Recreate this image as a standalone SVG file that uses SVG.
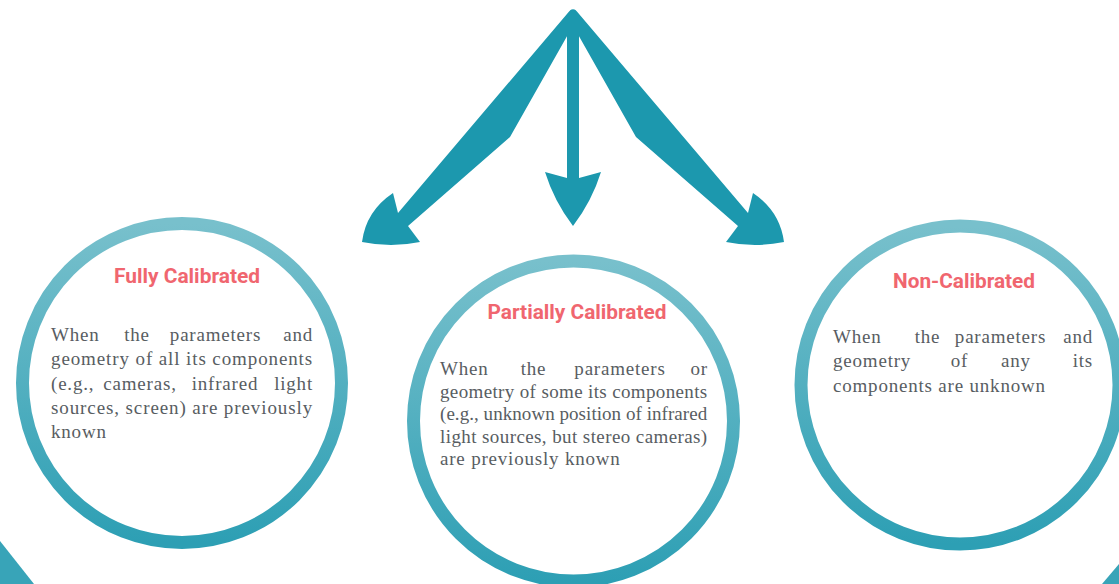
<svg xmlns="http://www.w3.org/2000/svg" width="1119" height="584" viewBox="0 0 1119 584">
  <defs>
    <linearGradient id="ring" x1="0" y1="0" x2="0" y2="1">
      <stop offset="0" stop-color="#78c0cc"/>
      <stop offset="1" stop-color="#2d9fb4"/>
    </linearGradient>
    <style>
      .ring { fill: #ffffff; stroke: url(#ring); stroke-width: 13; }
      .arrow { fill: #1c98ae; }
      .corner { fill: #38a4b8; }
      .title { font-family: Roboto, "Liberation Sans", sans-serif; font-weight: 700; font-size: 20px; fill: #f0666f; text-anchor: middle; }
      .body { font-family: "Liberation Serif", serif; font-size: 19px; fill: #585d62; letter-spacing: 0.8px; }
      .mid { text-anchor: middle; }
      .end { text-anchor: end; }
    </style>
  </defs>

  <rect width="1119" height="584" fill="#ffffff"/>

  <!-- partial shapes at the lower corners -->
  <path class="corner" d="M0 541 L34 584 L0 584 Z"/>
  <path class="corner" d="M1102 584 L1119 564 L1119 584 Z"/>

  <!-- branching arrows -->
  <g id="connectors">
    <path class="arrow" d="M576 11 A4.5 4.5 0 0 0 569.5 11 L398 213 L393 193 Q366 211 362 242 Q391 248 420 242 L408 226 L510 137 L566 38 L576 20 Z"/>
    <path class="arrow" d="M570 11 A4.5 4.5 0 0 1 576.5 11 L748 213 L753 193 Q780 211 784 242 Q755 248 726 242 L738 226 L636 137 L580 38 L570 20 Z"/>
    <path class="arrow" d="M567 14 L579 14 L579 178 L601 172 Q592 201 573 226 Q554 201 545 172 L567 178 Z"/>
  </g>

  <!-- Fully Calibrated -->
  <g id="fully-calibrated">
    <circle class="ring" cx="182" cy="383" r="159.5"/>
    <text class="title" x="187" y="283" textLength="146" lengthAdjust="spacingAndGlyphs">Fully Calibrated</text>
    <text class="body" y="341"><tspan x="51">When</tspan><tspan class="mid" x="137">the</tspan><tspan class="mid" x="215.5">parameters</tspan><tspan class="end" x="313">and</tspan></text>
    <text class="body" x="51" y="365" textLength="262" lengthAdjust="spacing">geometry of all its components</text>
    <text class="body" y="390"><tspan x="51">(e.g.,</tspan><tspan class="mid" x="140">cameras,</tspan><tspan class="mid" x="225">infrared</tspan><tspan class="end" x="313">light</tspan></text>
    <text class="body" x="51" y="414" textLength="262" lengthAdjust="spacing">sources, screen) are previously</text>
    <text class="body" x="51" y="438">known</text>
  </g>

  <!-- Partially Calibrated -->
  <g id="partially-calibrated">
    <circle class="ring" cx="573.5" cy="421" r="160"/>
    <text class="title" x="577" y="319" textLength="179" lengthAdjust="spacingAndGlyphs">Partially Calibrated</text>
    <text class="body" y="375"><tspan x="440">When</tspan><tspan class="mid" x="533.5">the</tspan><tspan class="mid" x="620">parameters</tspan><tspan class="end" x="708">or</tspan></text>
    <text class="body" x="440" y="398" textLength="268" lengthAdjust="spacing">geometry of some its components</text>
    <text class="body" x="440" y="420" textLength="268" lengthAdjust="spacing">(e.g., unknown position of infrared</text>
    <text class="body" x="440" y="443" textLength="268" lengthAdjust="spacing">light sources, but stereo cameras)</text>
    <text class="body" x="440" y="465">are previously known</text>
  </g>

  <!-- Non-Calibrated -->
  <g id="non-calibrated">
    <circle class="ring" cx="960" cy="385" r="159"/>
    <text class="title" x="964" y="288" textLength="142" lengthAdjust="spacingAndGlyphs">Non-Calibrated</text>
    <text class="body" y="343"><tspan x="833">When</tspan><tspan class="mid" x="927.5">the</tspan><tspan class="mid" x="1000.5">parameters</tspan><tspan class="end" x="1093">and</tspan></text>
    <text class="body" y="367"><tspan x="833">geometry</tspan><tspan class="mid" x="959.5">of</tspan><tspan class="mid" x="1016">any</tspan><tspan class="end" x="1093">its</tspan></text>
    <text class="body" x="833" y="392">components are unknown</text>
  </g>
</svg>
